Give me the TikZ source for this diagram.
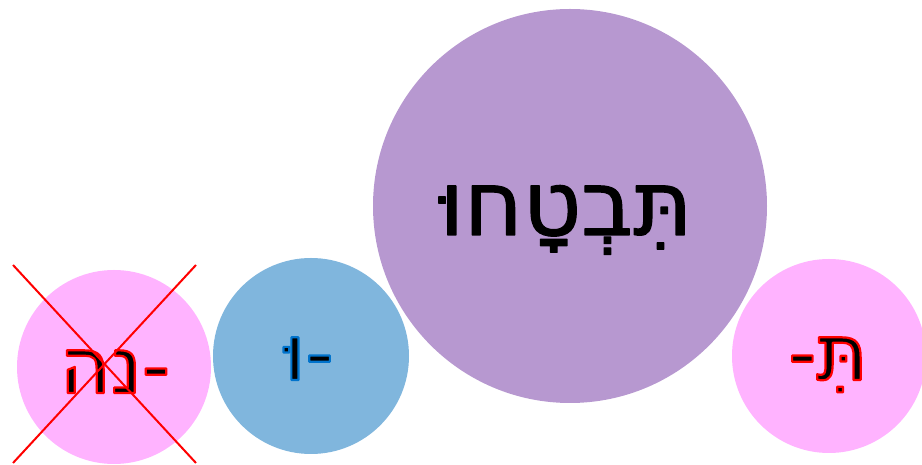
\documentclass[tikz,border=0pt]{standalone}
\usepackage{fontspec}
\setmainfont{Liberation Sans}
\newfontfamily\hebfont[Script=Hebrew]{DejaVu Sans}
\TeXXeTstate=1
\definecolor{pinkc}{RGB}{255,179,255}
\definecolor{bluec}{RGB}{128,182,221}
\definecolor{purplec}{RGB}{183,152,208}
\newcommand{\strokeon}[2]{\special{pdf:literal direct #1 RG #2 w 1 j 2 Tr}}
\newcommand{\strokeoff}{\special{pdf:literal direct 0 Tr}}
\tikzset{
  bubble/.style={circle, inner sep=0pt, minimum size=#1},
  bigtxt/.style={anchor=base, inner sep=0pt, font=\hebfont\fontsize{90}{96}\selectfont, text=black},
  smalltxt/.style={anchor=base, inner sep=0pt, font=\hebfont\fontsize{78}{84}\selectfont, text=black},
  cross/.style={draw=red, line width=2pt}
}
\begin{document}
\begin{tikzpicture}[x=1pt,y=1pt]
\useasboundingbox (0,0) rectangle (922,465);
\node[bubble=194pt, fill=pinkc] (pl) at (114,98) {};
\node[bubble=196pt, fill=bluec] (bl) at (311,109) {};
\node[bubble=394pt, fill=purplec] (pu) at (570,259) {};
\node[bubble=194pt, fill=pinkc] (pr) at (829,109) {};
\node[bigtxt] (tbig) at (566,230) {\strokeon{0 0 0}{1.2}\beginR תִּבְטָחוּ\endR\strokeoff};
\node[smalltxt] (tpl) at (115,72) {\strokeon{1 0 0}{2.2}\beginR -נה\endR\strokeoff};
\node[smalltxt] (tbl) at (309,85) {\strokeon{0 0.45 0.8}{2.2}\beginR -וּ\endR\strokeoff};
\node[smalltxt] (tpr) at (828,85) {\strokeon{1 0 0}{2.2}\beginR תִּ-\endR\strokeoff};
\coordinate (xa) at (13,200);
\coordinate (xb) at (196,2);
\coordinate (xc) at (196,200);
\coordinate (xd) at (13,2);
\draw[cross] (xa) -- (xb);
\draw[cross] (xc) -- (xd);
\end{tikzpicture}
\end{document}
